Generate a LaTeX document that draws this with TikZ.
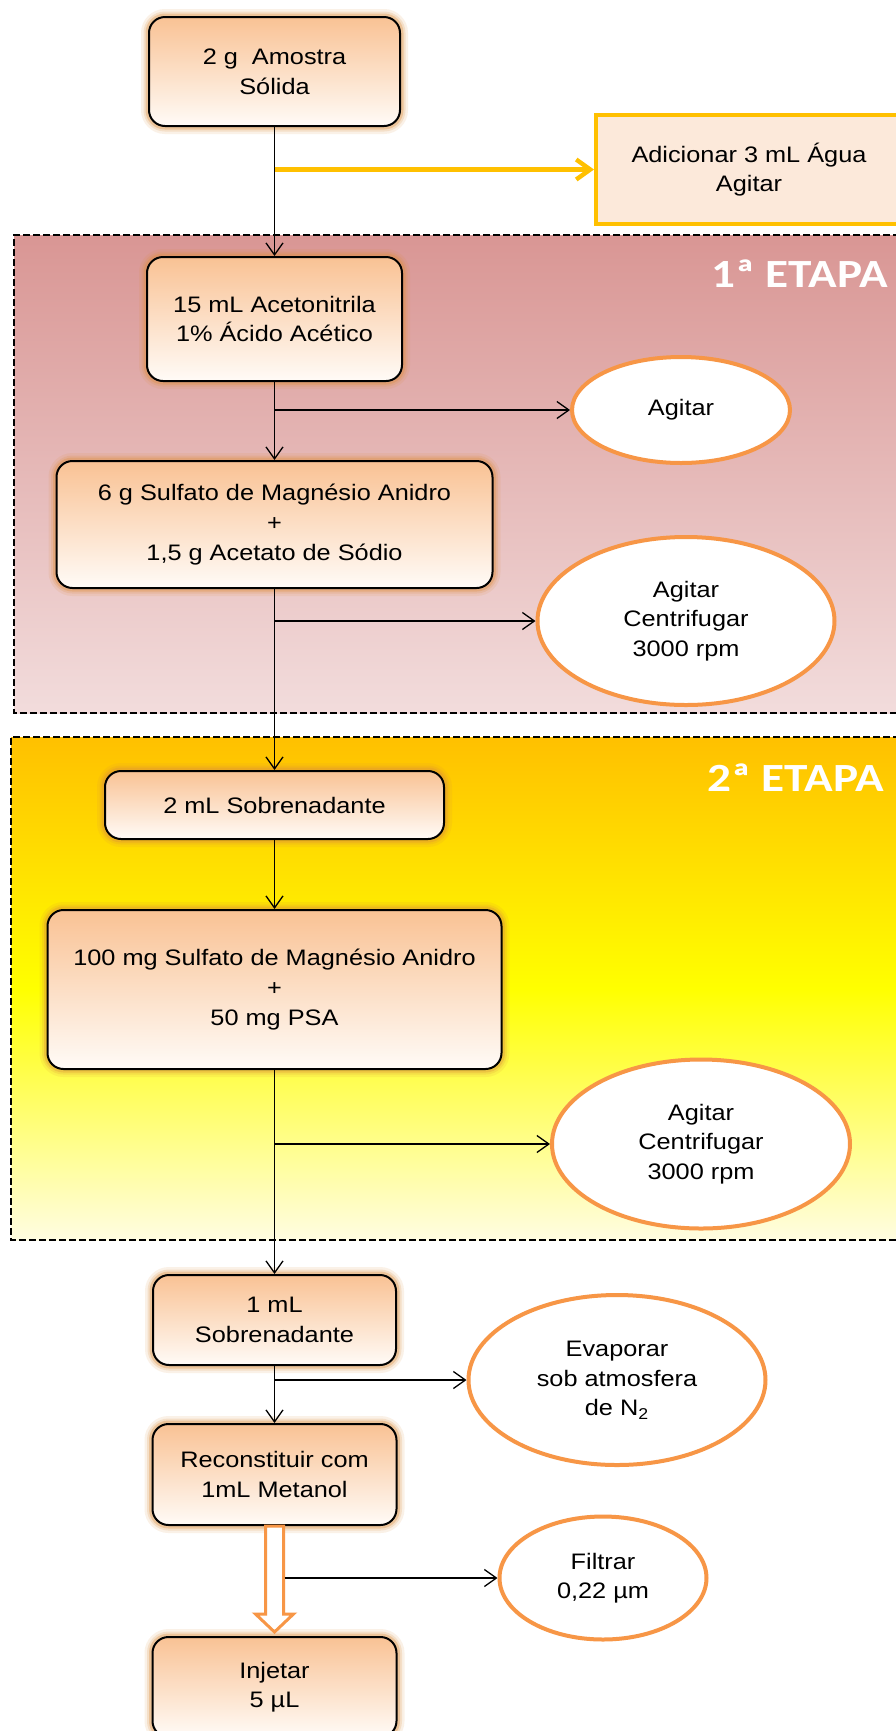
\documentclass[tikz,border=0pt]{standalone}
\usepackage{fontspec}
\setmainfont{Liberation Sans}[FakeStretch=1.13]
\newfontfamily\stagefont{Carlito}[FakeStretch=1.18]
\usetikzlibrary{arrows.meta,shapes.geometric,calc}

% palette
\definecolor{boxtop}{RGB}{249,194,148}
\definecolor{boxbot}{RGB}{255,251,247}
\definecolor{glowc}{RGB}{222,142,60}
\definecolor{ringc}{RGB}{247,150,70}
\definecolor{goldc}{RGB}{255,192,0}
\definecolor{addfill}{RGB}{252,233,218}
\definecolor{sonetop}{RGB}{217,150,148}
\definecolor{sonebot}{RGB}{242,220,220}
\definecolor{stwotop}{RGB}{255,192,0}
\definecolor{stwomid}{RGB}{255,255,0}
\definecolor{stwobot}{RGB}{255,253,226}

% three-stop background for the second stage
\pgfdeclareverticalshading{stagetwo}{100bp}{%
  color(0bp)=(stwobot); color(25bp)=(stwobot); color(50bp)=(stwomid);
  color(75bp)=(stwotop); color(100bp)=(stwotop)}

\begin{document}
\begin{tikzpicture}[x=0.5pt,y=-0.5pt,
  every node/.style={font=\fontsize{11.2pt}{14.8pt}\selectfont, align=center},
  stepbox/.style={draw=black, line width=1pt, rounded corners=8pt,
    top color=boxtop, bottom color=boxbot, inner sep=0pt,
    preaction={draw=glowc, line width=8pt, opacity=0.12},
    preaction={draw=glowc, line width=5.5pt, opacity=0.18},
    preaction={draw=glowc, line width=3.5pt, opacity=0.32}},
  oval/.style={ellipse, draw=ringc, line width=2pt, fill=white, inner sep=0pt},
  addbox/.style={rectangle, draw=goldc, line width=2pt, fill=addfill, inner sep=0pt},
  stagelabel/.style={font=\stagefont\bfseries\fontsize{20pt}{24pt}\selectfont,
    text=white, inner sep=0pt, anchor=base east},
  panelline/.style={draw=black, line width=0.75pt, dash pattern=on 3.3pt off 1.7pt},
  conn/.style={draw=black, line width=0.65pt, -{Straight Barb[length=6pt,width=8.5pt]}},
  goldarrow/.style={draw=goldc, line width=2.2pt, -{Straight Barb[length=7pt,width=10pt]}},
  hollow/.style={draw=ringc, fill=white, line width=1.5pt, line join=miter}
]
\useasboundingbox (0,0) rectangle (895,1731);
\fill[white] (0,0) rectangle (895,1731);

% stage panels
\shade[top color=sonetop, bottom color=sonebot] (14,235) rectangle (910,713);
\draw[panelline] (910,235) -- (14,235) -- (14,713) -- (910,713);
\path[shading=stagetwo] (11,737) rectangle (910,1240);
\draw[panelline] (910,737) -- (11,737) -- (11,1240) -- (910,1240);

\node[stagelabel] (t1) at (888,287) {1ª ETAPA};
\node[stagelabel] (t2) at (884,791) {2ª ETAPA};

% steps
\node[stepbox, minimum width=125.5pt, minimum height=54.5pt] (n1) at (274.5,71.5) {2 g~ Amostra\\Sólida};
\node[addbox, minimum width=153pt, minimum height=54.5pt] (add) at (749,169.5) {Adicionar 3 mL Água\\Agitar};
\node[stepbox, minimum width=127.5pt, minimum height=62pt] (n2) at (274.5,319) {15 mL Acetonitrila\\1\% Ácido Acético};
\node[oval, minimum width=109pt, minimum height=53pt] (e1) at (681,410) {Agitar};
\node[stepbox, minimum width=218pt, minimum height=63.5pt] (n3) at (274.5,524.5) {6 g Sulfato de Magnésio Anidro\\+\\1,5 g Acetato de Sódio};
\node[oval, minimum width=148.5pt, minimum height=84pt] (e2) at (686,621) {Agitar\\Centrifugar\\3000 rpm};
\node[stepbox, minimum width=169.5pt, minimum height=34pt] (n4) at (274.5,805) {2 mL Sobrenadante};
\node[stepbox, minimum width=227pt, minimum height=79.5pt] (n5) at (274.5,989.5) {100 mg Sulfato de Magnésio Anidro\\+\\50 mg PSA};
\node[oval, minimum width=149pt, minimum height=84.5pt] (e3) at (701,1144) {Agitar\\Centrifugar\\3000 rpm};
\node[stepbox, minimum width=121.5pt, minimum height=45pt] (n6) at (274.5,1320) {1 mL\\Sobrenadante};
\node[oval, minimum width=148.5pt, minimum height=85pt] (e4) at (617,1380) {Evaporar\\sob atmosfera\\de N\textsubscript{2}};
\node[stepbox, minimum width=122pt, minimum height=50.5pt] (n7) at (274.5,1474.5) {Reconstituir com\\1mL Metanol};
\node[oval, minimum width=103.5pt, minimum height=61.5pt] (e5) at (603,1578) {Filtrar\\0,22 µm};
\node[stepbox, minimum width=122pt, minimum height=50pt] (n8) at (274.5,1687) {Injetar\\5 µL};

% connectors
\draw[conn] (n1.south) -- (n2.north);
\draw[goldarrow] (n1.south |- add.west) -- (add.west);
\draw[conn] (n2.south) -- (n3.north);
\draw[conn] (n2.south |- e1.west) -- (e1.west);
\draw[conn] (n3.south) -- (n4.north);
\draw[conn] (n3.south |- e2.west) -- (e2.west);
\draw[conn] (n4.south) -- (n5.north);
\draw[conn] (n5.south) -- (n6.north);
\draw[conn] (n5.south |- e3.west) -- (e3.west);
\draw[conn] (n6.south) -- (n7.north);
\draw[conn] (n6.south |- e4.west) -- (e4.west);

% hollow block arrow into the last step
\coordinate (tip) at ($(n8.north)+(0,-4)$);
\draw[hollow] ($(n7.south)+(-9,0)$) -- ($(tip)+(-9,-18)$) -- ($(tip)+(-19,-18)$)
  -- (tip) -- ($(tip)+(19,-18)$) -- ($(tip)+(9,-18)$) -- ($(n7.south)+(9,0)$) -- cycle;
\draw[conn] ($(n7.south |- e5.west)+(10,0)$) -- (e5.west);
\end{tikzpicture}
\end{document}
